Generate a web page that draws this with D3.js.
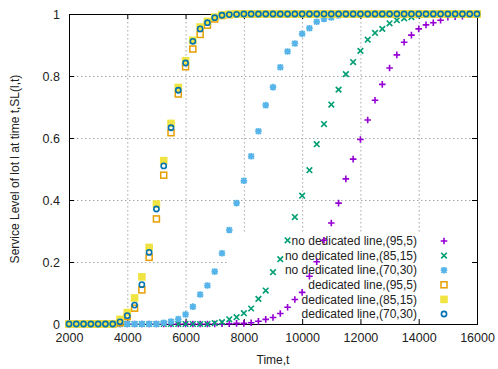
<!DOCTYPE html>
<html>
<head>
<meta charset="utf-8">
<script src="https://cdn.jsdelivr.net/npm/d3@7"></script>
<style>
  body { margin: 0; background: #fff; }
  svg { font-family: "Liberation Sans", Arial, sans-serif; }
</style>
</head>
<body>
<div id="chart"></div>
<script>
// time grid (every 250 from 2000 to 16000)
const times = d3.range(2000, 16001, 250);

const xTicks = [2000, 4000, 6000, 8000, 10000, 12000, 14000, 16000];
const yTicks = [0, 0.2, 0.4, 0.6, 0.8, 1];

const noDed95 = [0,0,0,0,0,0,0,0,0,0,0,0,0,0,0,0,0,0,0,0,0,0.001,0.001,0.002,0.002,0.004,0.009,0.015,0.021,0.034,0.054,0.079,0.102,0.154,0.201,0.270,0.326,0.390,0.468,0.532,0.595,0.658,0.722,0.773,0.826,0.868,0.909,0.932,0.952,0.965,0.972,0.980,0.990,0.991,0.993,1,1];
const noDed85 = [0,0,0,0,0,0,0,0,0,0,0,0,0,0,0,0,0,0,0,0,0.003,0.006,0.015,0.022,0.035,0.050,0.081,0.108,0.167,0.209,0.270,0.345,0.414,0.496,0.580,0.645,0.708,0.756,0.806,0.845,0.881,0.917,0.939,0.952,0.970,0.980,0.986,0.990,0.996,0.999,1,1,1,1,1,1,1];
const noDed70 = [0,0,0,0,0,0,0,0,0,0,0,0,0,0.004,0.008,0.016,0.031,0.056,0.095,0.124,0.169,0.228,0.303,0.390,0.462,0.541,0.622,0.706,0.764,0.828,0.879,0.905,0.936,0.954,0.975,0.984,0.989,0.995,0.998,0.999,1,1,1,1,1,1,1,1,1,1,1,1,1,1,1,1,1];
const ded95 = [0,0,0,0,0,0,0,0.004,0.024,0.051,0.110,0.215,0.339,0.480,0.617,0.742,0.830,0.887,0.934,0.964,0.984,0.995,0.998,1,1,1,1,1,1,1,1,1,1,1,1,1,1,1,1,1,1,1,1,1,1,1,1,1,1,1,1,1,1,1,1,1,1];
const ded85 = [0,0,0,0,0,0,0,0.015,0.037,0.084,0.152,0.247,0.387,0.527,0.647,0.763,0.849,0.915,0.958,0.976,0.990,0.997,0.999,1,1,1,1,1,1,1,1,1,1,1,1,1,1,1,1,1,1,1,1,1,1,1,1,1,1,1,1,1,1,1,1,1,1];
const ded70 = [0,0,0,0,0,0,0,0.007,0.027,0.061,0.127,0.231,0.371,0.510,0.633,0.754,0.842,0.912,0.952,0.972,0.988,0.996,0.998,0.999,1,1,1,1,1,1,1,1,1,1,1,1,1,1,1,1,1,1,1,1,1,1,1,1,1,1,1,1,1,1,1,1,1,1];

const seriesNames = [
  "no dedicated line,(95,5)",
  "no dedicated line,(85,15)",
  "no dedicated line,(70,30)",
  "dedicated line,(95,5)",
  "dedicated line,(85,15)",
  "dedicated line,(70,30)"
];
const seriesValues = [noDed95, noDed85, noDed70, ded95, ded85, ded70];
const seriesColors = ["#9400d3", "#009e73", "#56b4e9", "#e69f00", "#f0e442", "#0072b2"];
const seriesShapes = ["plus", "cross", "star", "openSquare", "fillSquare", "openCircle"];

const W = 498, H = 369;
const margin = { top: 14, right: 21, bottom: 45, left: 69 };
const width = W - margin.left - margin.right;
const height = H - margin.top - margin.bottom;

const svg = d3.select("#chart").append("svg")
  .attr("width", W).attr("height", H);

const g = svg.append("g").attr("transform", `translate(${margin.left},${margin.top})`);

const x = d3.scaleLinear().domain([2000, 16000]).range([0, width]);
const y = d3.scaleLinear().domain([0, 1]).range([height, 0]);

// grid
const grid = g.append("g").attr("stroke", "#a8a8a8").attr("stroke-dasharray", "1.5,2.5").attr("stroke-width", 1);
grid.selectAll(".vg").data(xTicks.slice(1, -1)).join("line")
  .attr("x1", d => x(d) + 0.5).attr("x2", d => x(d) + 0.5)
  .attr("y1", 0).attr("y2", height);
grid.selectAll(".hg").data(yTicks.slice(1, -1)).join("line")
  .attr("x1", 0).attr("x2", width)
  .attr("y1", d => y(d) + 0.5).attr("y2", d => y(d) + 0.5);

// legend background (opaque key)
const keyLeft = 158, keyTop = 219, keyRowH = 14.6;
g.append("rect")
  .attr("x", keyLeft).attr("y", keyTop)
  .attr("width", width - keyLeft - 6).attr("height", height - keyTop - 1)
  .attr("fill", "#fff");

// axes with inward ticks on all sides
const xAxis = g.append("g").attr("transform", `translate(0,${height})`)
  .call(d3.axisBottom(x).tickValues(xTicks).tickSizeInner(-5).tickSizeOuter(0).tickPadding(9).tickFormat(d3.format("d")));
const xAxisTop = g.append("g")
  .call(d3.axisTop(x).tickValues(xTicks).tickSizeInner(-5).tickSizeOuter(0).tickFormat(""));
const yAxis = g.append("g")
  .call(d3.axisLeft(y).tickValues(yTicks).tickSizeInner(-5).tickSizeOuter(0).tickPadding(9).tickFormat(d3.format("")));
const yAxisRight = g.append("g").attr("transform", `translate(${width},0)`)
  .call(d3.axisRight(y).tickValues(yTicks).tickSizeInner(-5).tickSizeOuter(0).tickFormat(""));

[xAxis, xAxisTop, yAxis, yAxisRight].forEach(a => {
  a.select(".domain").remove();
  a.selectAll(".tick line").attr("stroke", "#000");
  a.selectAll("text").attr("fill", "#222").style("font-size", "12.5px").style("font-family", "Liberation Sans, Arial, sans-serif");
});

// border
g.append("rect").attr("x", 0.5).attr("y", 0.5).attr("width", width).attr("height", height)
  .attr("fill", "none").attr("stroke", "#000").attr("stroke-width", 1);

// axis titles
svg.append("text")
  .attr("x", margin.left + width / 2).attr("y", 364)
  .attr("text-anchor", "middle").attr("fill", "#222").style("font-size", "12px")
  .text("Time,t");
svg.append("text")
  .attr("transform", `translate(19,${margin.top + height / 2}) rotate(-90)`)
  .attr("text-anchor", "middle").attr("fill", "#222").style("font-size", "12px")
  .text("Service Level of lot l at time t,SL(l,t)");

// marker drawing
function drawMarker(sel, shape, color) {
  const s = 3.3;
  if (shape === "plus") {
    sel.append("path").attr("d", `M${-s},0H${s}M0,${-s}V${s}`)
      .attr("stroke", color).attr("stroke-width", 1.6).attr("fill", "none");
  } else if (shape === "cross") {
    const c = 2.8;
    sel.append("path").attr("d", `M${-c},${-c}L${c},${c}M${-c},${c}L${c},${-c}`)
      .attr("stroke", color).attr("stroke-width", 1.6).attr("fill", "none");
  } else if (shape === "star") {
    const c = 2.6;
    sel.append("path").attr("d", `M${-s},0H${s}M0,${-s}V${s}M${-c},${-c}L${c},${c}M${-c},${c}L${c},${-c}`)
      .attr("stroke", color).attr("stroke-width", 1.8).attr("fill", "none");
  } else if (shape === "openSquare") {
    sel.append("rect").attr("x", -3).attr("y", -3).attr("width", 6).attr("height", 6)
      .attr("stroke", color).attr("stroke-width", 1.5).attr("fill", "none");
  } else if (shape === "fillSquare") {
    sel.append("rect").attr("x", -3.8).attr("y", -3.8).attr("width", 7.6).attr("height", 7.6)
      .attr("fill", color);
  } else if (shape === "openCircle") {
    sel.append("circle").attr("r", 2.6)
      .attr("stroke", color).attr("stroke-width", 1.6).attr("fill", "none");
  }
}

// legend text
const keyTextX = 348, keySymX = 375;
seriesNames.forEach((name, i) => {
  const cy = keyTop + 8 + i * keyRowH;
  g.append("text")
    .attr("x", keyTextX).attr("y", cy).attr("dy", "0.35em")
    .attr("text-anchor", "end").attr("fill", "#222").style("font-size", "12px")
    .text(name);
});

// data points and key samples, in plotting order
seriesValues.forEach((vals, si) => {
  const layer = g.append("g");
  times.forEach((t, i) => {
    const m = layer.append("g").attr("transform", `translate(${x(t)},${y(vals[i])})`);
    drawMarker(m, seriesShapes[si], seriesColors[si]);
  });
  const k = g.append("g").attr("transform", `translate(${keySymX},${keyTop + 8 + si * keyRowH})`);
  drawMarker(k, seriesShapes[si], seriesColors[si]);
});
</script>
</body>
</html>
